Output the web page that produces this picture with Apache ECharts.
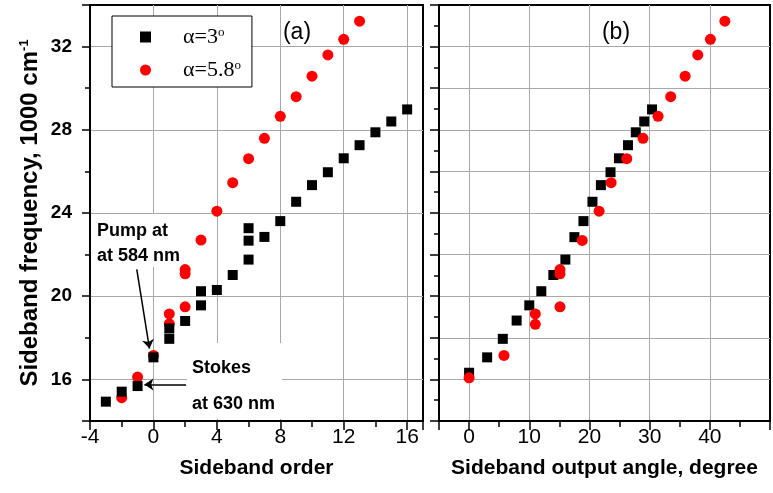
<!DOCTYPE html>
<html><head><meta charset="utf-8">
<script src="https://cdn.jsdelivr.net/npm/echarts@6/dist/echarts.min.js"></script>
<style>html,body{margin:0;padding:0;background:#fff}#c{width:773px;height:493px}</style>
</head><body><div id="c"></div>
<script>
// ---- Panel (a): sideband order vs frequency (1000 cm^-1)
const orderBlack = [-3,-2,-1,0,1,1,2,3,3,4,5,6,6,6,7,8,9,10,11,12,13,14,15,16];
const freqBlackA = [14.93,15.41,15.68,17.06,17.95,18.45,18.81,19.56,20.24,20.30,21.02,21.76,22.67,23.27,22.85,23.61,24.54,25.34,25.96,26.63,27.26,27.88,28.40,28.98];
const orderRed = [-2,-1,0,1,1,2,2,2,3,4,5,6,7,8,9,10,11,12,13];
const freqRedA = [15.12,16.11,17.15,18.67,19.15,19.49,21.08,21.28,22.70,24.09,25.46,26.61,27.59,28.65,29.59,30.58,31.60,32.35,33.22];
// ---- Panel (b): output angle (degree) vs frequency
const angleBlack = [0,3.0,5.6,7.9,10.0,12.0,14.0,16.0,17.5,19.0,20.5,21.9,23.5,24.9,26.4,27.7,29.1,30.4];
const freqBlackB = [16.32,17.06,17.95,18.83,19.56,20.24,21.02,21.76,22.84,23.61,24.54,25.34,25.96,26.63,27.26,27.88,28.40,28.98];
const angleRed = [0,5.8,11.0,11.0,15.1,15.1,15.1,18.8,21.6,23.6,26.2,28.9,31.4,33.5,35.9,38.0,40.1,42.5];
const freqRedB = [16.08,17.15,18.65,19.15,19.49,21.08,21.28,22.68,24.09,25.46,26.61,27.59,28.65,29.59,30.58,31.60,32.35,33.22];
// series names, tick labels, annotations
const nameA3 = 'α=3°';
const nameA58 = 'α=5.8°';
const yTickLabels = [16,20,24,28,32];
const xTickLabelsA = [-4,0,4,8,12,16];
const xTickLabelsB = [0,10,20,30,40];
const pumpArrow = [[-1.05,21.29],[-0.25,17.48]];
const stokesArrow = [[2.06,15.76],[-0.57,15.76]];

const zip = (xs, ys) => xs.map((x, i) => [x, ys[i]]);
const FONT = '"Liberation Sans", Arial, sans-serif';
const chart = echarts.init(document.getElementById('c'), null, {renderer: 'canvas'});

const gridLine = {show: true, showMinLine: false, showMaxLine: false, lineStyle: {color: '#a8a8a8', width: 1}};
const axisLine = {show: true, onZero: false, lineStyle: {color: '#000', width: 2}};

const xBase = {
  type: 'value', axisLine, splitLine: gridLine,
  axisTick: {show: true, inside: false, length: 9, lineStyle: {color: '#000', width: 1.5}},
  minorTick: {show: true, splitNumber: 2, length: 6, lineStyle: {color: '#000', width: 1.5}},
  nameLocation: 'middle', nameGap: 37,
  nameTextStyle: {fontFamily: FONT, fontWeight: 'bold', fontSize: 21, color: '#000'}
};
const yBase = {
  type: 'value', min: 14, max: 34, axisLine,
  axisTick: {show: true, inside: false, length: 8, lineStyle: {color: '#000', width: 1.5}},
  minorTick: {show: true, splitNumber: 2, length: 5, lineStyle: {color: '#000', width: 1.5}},
  splitLine: gridLine
};

const option = {
  animation: false,
  backgroundColor: '#fff',
  grid: [
    {left: 90, top: 5, width: 333, height: 416, show: true, borderColor: '#000', borderWidth: 2, backgroundColor: 'transparent'},
    {left: 439, top: 5, width: 350, height: 416, show: true, borderColor: '#000', borderWidth: 2, backgroundColor: 'transparent'}
  ],
  xAxis: [
    Object.assign({}, xBase, {
      gridIndex: 0, min: -4, max: 17, minInterval: 4, maxInterval: 4,
      name: 'Sideband order',
      axisLabel: {margin: 6, fontFamily: FONT, fontSize: 21, color: '#000',
        formatter: v => xTickLabelsA.includes(v) ? String(v) : ''}
    }),
    Object.assign({}, xBase, {
      gridIndex: 1, min: -5, max: 50, minInterval: 10, maxInterval: 10,
      name: 'Sideband output angle, degree',
      axisLabel: {margin: 6, fontFamily: FONT, fontSize: 21, color: '#000',
        formatter: v => xTickLabelsB.includes(v) ? String(v) : ''}
    })
  ],
  yAxis: [
    Object.assign({}, yBase, {
      gridIndex: 0, minInterval: 4, maxInterval: 4,
      name: 'Sideband frequency, 1000 cm{s|-1}',
      nameLocation: 'middle', nameGap: 48,
      nameTextStyle: {fontFamily: FONT, fontWeight: 'bold', fontSize: 24, color: '#000',
        rich: {s: {fontFamily: FONT, fontWeight: 'bold', fontSize: 13, color: '#000', verticalAlign: 'top'}}},
      axisLabel: {margin: 18, fontFamily: FONT, fontWeight: 'bold', fontSize: 19, color: '#000',
        formatter: v => yTickLabels.includes(v) ? String(v) : ''}
    }),
    Object.assign({}, yBase, {
      gridIndex: 1, interval: 2,
      axisTick: {show: true, inside: false, length: 9, lineStyle: {color: '#000', width: 1.5}},
      axisLabel: {show: false}
    })
  ],
  legend: {
    data: [{name: nameA3, icon: 'rect'}, {name: nameA58, icon: 'circle'}],
    orient: 'vertical', left: 112, top: 16,
    itemWidth: 11, itemHeight: 11, itemGap: 11,
    padding: [10, 11, 6, 28],
    borderColor: '#000', borderWidth: 1, backgroundColor: '#fff',
    selectedMode: false,
    formatter: n => '{g| }' + n.replace('°', '{s|o}'),
    textStyle: {fontFamily: '"Liberation Serif", "Times New Roman", serif', fontSize: 22, color: '#000',
      rich: {
        g: {width: 27, fontSize: 22},
        s: {fontFamily: '"Liberation Serif", serif', fontSize: 13, color: '#000', verticalAlign: 'top'}
      }}
  },
  graphic: [
    {type: 'rect', z: 1, silent: true, shape: {x: 92, y: 214, width: 92, height: 53}, style: {fill: '#fff'}},
    {type: 'rect', z: 1, silent: true, shape: {x: 187, y: 343, width: 95, height: 76}, style: {fill: '#fff'}},
    {type: 'text', z: 6, silent: true, style: {x: 97, y: 231, text: 'Pump at', font: 'bold 18px ' + FONT, fill: '#000', textVerticalAlign: 'middle'}},
    {type: 'text', z: 6, silent: true, style: {x: 97, y: 256, text: 'at 584 nm', font: 'bold 18px ' + FONT, fill: '#000', textVerticalAlign: 'middle'}},
    {type: 'text', z: 6, silent: true, style: {x: 192, y: 368, text: 'Stokes', font: 'bold 18px ' + FONT, fill: '#000', textVerticalAlign: 'middle'}},
    {type: 'text', z: 6, silent: true, style: {x: 192, y: 404, text: 'at 630 nm', font: 'bold 18px ' + FONT, fill: '#000', textVerticalAlign: 'middle'}},
    {type: 'text', z: 6, silent: true, style: {x: 297, y: 33, text: '(a)', font: '23px ' + FONT, fill: '#000', textAlign: 'center', textVerticalAlign: 'middle'}},
    {type: 'text', z: 6, silent: true, style: {x: 616, y: 33, text: '(b)', font: '23px ' + FONT, fill: '#000', textAlign: 'center', textVerticalAlign: 'middle'}}
  ],
  series: [
    {type: 'scatter', name: nameA58, xAxisIndex: 0, yAxisIndex: 0, data: zip(orderRed, freqRedA),
      symbol: 'circle', symbolSize: 11, itemStyle: {color: '#ff0000', opacity: 1}},
    {type: 'scatter', name: nameA3, xAxisIndex: 0, yAxisIndex: 0, data: zip(orderBlack, freqBlackA),
      symbol: 'rect', symbolSize: 10, itemStyle: {color: '#000', opacity: 1},
      markLine: {silent: true, symbol: ['none', 'arrow'], symbolSize: 9, animation: false,
        label: {show: false}, lineStyle: {color: '#000', width: 1.5, type: 'solid'},
        emphasis: {disabled: true},
        data: [
          [{coord: pumpArrow[0]}, {coord: pumpArrow[1]}],
          [{coord: stokesArrow[0]}, {coord: stokesArrow[1]}]
        ]}},
    {type: 'scatter', name: nameA3, xAxisIndex: 1, yAxisIndex: 1, data: zip(angleBlack, freqBlackB),
      symbol: 'rect', symbolSize: 10, itemStyle: {color: '#000', opacity: 1}},
    {type: 'scatter', name: nameA58, xAxisIndex: 1, yAxisIndex: 1, data: zip(angleRed, freqRedB),
      symbol: 'circle', symbolSize: 11, itemStyle: {color: '#ff0000', opacity: 1}}
  ]
};
chart.setOption(option);
</script>
</body></html>
